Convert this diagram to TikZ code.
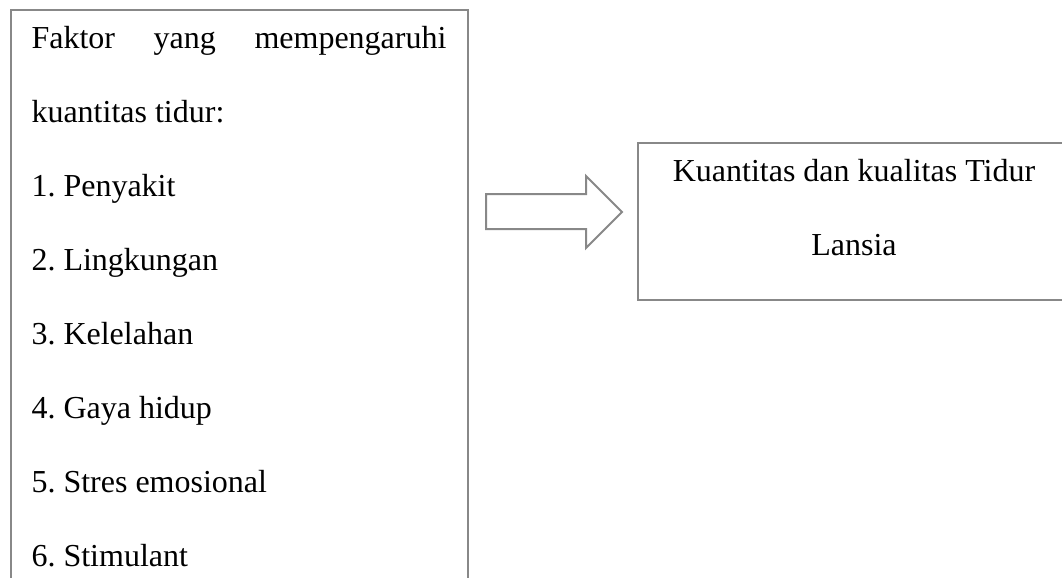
\documentclass[tikz,border=0pt]{standalone}
\usepackage{fontspec}
\setmainfont{Liberation Serif}
\definecolor{boxgray}{RGB}{136,136,136}
\frenchspacing
\begin{document}
\begin{tikzpicture}[x=0.375pt,y=-0.375pt,
  frame/.style={draw=boxgray,line width=0.75pt,inner sep=0pt,anchor=north west},
  txt/.style={inner sep=0pt,font=\fontsize{12pt}{14pt}\selectfont\frenchspacing},
  item/.style={txt,anchor=base west},
  blockarrow/.style={draw=boxgray,line width=0.75pt,line join=miter,fill=white}]
\useasboundingbox (0,0) rectangle (1062,577);
\clip (0,0) rectangle (1062,577);
\node[frame,minimum width=171.19pt,minimum height=221.8pt] (left) at (10,8.5) {};
\node[frame,minimum width=164.25pt,minimum height=59.06pt] (right) at (637,141.5) {};
\node[item] (t0) at (31,48) {\makebox[155.6pt][s]{Faktor yang mempengaruhi}};
\node[item] (t1) at (31,122) {kuantitas tidur:};
\node[item] (t2) at (31,196) {1. Penyakit};
\node[item] (t3) at (31,270) {2. Lingkungan};
\node[item] (t4) at (31,344) {3. Kelelahan};
\node[item] (t5) at (31,418) {4. Gaya hidup};
\node[item] (t6) at (31,492) {5. Stres emosional};
\node[item] (t7) at (31,566) {6. Stimulant};
\node[txt,anchor=base] (r1) at (854,181) {Kuantitas dan kualitas Tidur};
\node[txt,anchor=base] (r2) at (854,255) {Lansia};
\draw[blockarrow] (486,194) -- (586,194) -- (586,176) -- (622,212) -- (586,248) -- (586,229) -- (486,229) -- cycle;
\end{tikzpicture}
\end{document}
